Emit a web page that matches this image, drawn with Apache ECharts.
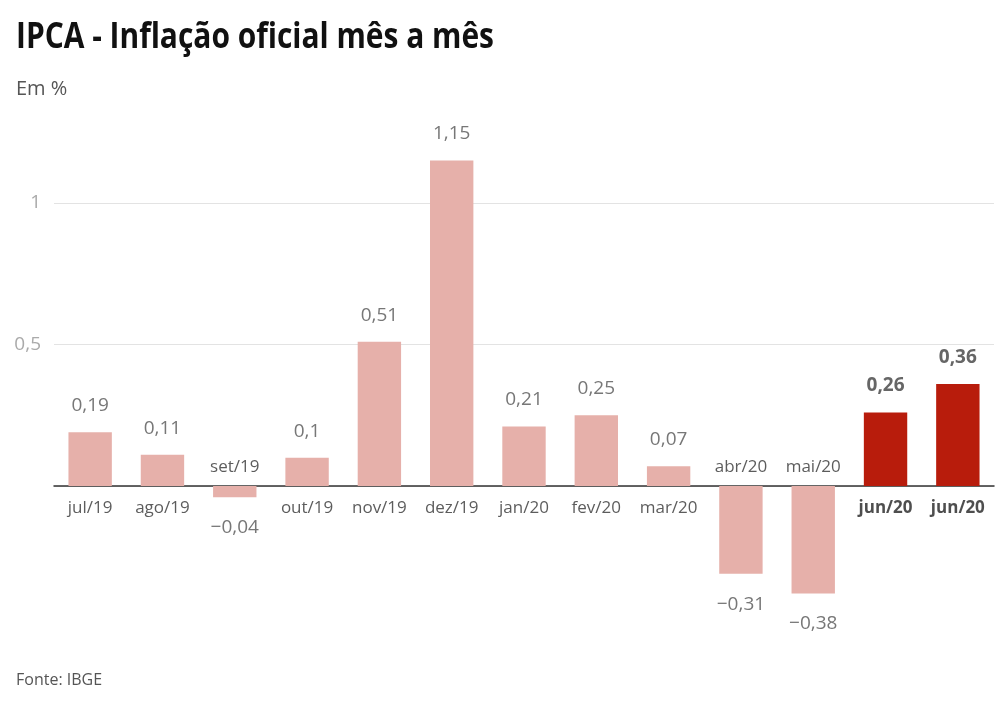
<!DOCTYPE html>
<html>
<head>
<meta charset="utf-8">
<script src="https://cdn.jsdelivr.net/npm/echarts@6/dist/echarts.min.js"></script>
<style>
  html, body { margin: 0; padding: 0; background: #fff; }
  #chart { width: 1008px; height: 719px; }
</style>
</head>
<body>
<div id="chart"></div>
<script>
// dados do IPCA mes a mes (em %)
const categories = ['jul/19', 'ago/19', 'set/19', 'out/19', 'nov/19', 'dez/19', 'jan/20',
  'fev/20', 'mar/20', 'abr/20', 'mai/20', 'jun/20', 'jun/20']
const values = [0.19, 0.11, -0.04, 0.1, 0.51, 1.15, 0.21, 0.25, 0.07, -0.31, -0.38, 0.26, 0.36]
const highlighted = [false, false, false, false, false, false, false, false, false, false, false, true, true]
const yTickLabels = { '0.5': '0,5', '1': '1' }

const fmt = v => (v < 0 ? '\u2212' : '') + String(Math.abs(v)).replace('.', ',')

const barData = values.map((v, i) => ({
  value: v,
  itemStyle: { color: highlighted[i] ? '#b81c0c' : '#e6b0aa' },
  label: {
    position: v < 0 ? 'bottom' : 'top',
    distance: v < 0 ? 21 : 17,
    fontWeight: highlighted[i] ? 'bold' : 'normal',
    color: highlighted[i] ? '#666' : '#777'
  }
}))

// rotulos das categorias ficam do lado oposto da barra
const catData = values.map((v, i) => ({
  value: [i, 0],
  label: {
    position: v < 0 ? 'top' : 'bottom',
    distance: v < 0 ? 10 : 14,
    fontWeight: highlighted[i] ? 'bold' : 'normal',
    color: highlighted[i] ? '#222' : '#333'
  }
}))

const chart = echarts.init(document.getElementById('chart'))

const option = {
  animation: false,
  backgroundColor: '#fff',
  textStyle: { fontFamily: '"Open Sans", sans-serif' },
  graphic: [
    {
      type: 'text', x: 16, y: 38, scaleX: 0.855,
      style: { text: 'IPCA - Inflação oficial mês a mês', font: 'bold 35px "Open Sans"', fill: '#111', verticalAlign: 'middle' }
    },
    {
      type: 'text', x: 16, y: 89,
      style: { text: 'Em %', font: '20px "Open Sans"', fill: '#555', verticalAlign: 'middle' }
    },
    {
      type: 'text', x: 16, y: 680,
      style: { text: 'Fonte: IBGE', font: '16px "Open Sans"', fill: '#555', verticalAlign: 'middle' }
    }
  ],
  grid: { left: 54, right: 14, top: 61.5, bottom: 91.5, containLabel: false },
  xAxis: {
    type: 'category',
    data: categories,
    axisLine: { onZero: true, lineStyle: { color: '#333', width: 1.5 } },
    axisTick: { show: false },
    axisLabel: { show: false },
    splitLine: { show: false }
  },
  yAxis: {
    type: 'value',
    min: -0.5,
    max: 1.5,
    interval: 0.5,
    axisLine: { show: false },
    axisTick: { show: false },
    axisLabel: {
      margin: 13,
      fontSize: 19,
      color: '#aaa',
      formatter: v => yTickLabels[String(v)] || ''
    },
    splitLine: {
      show: true,
      showMinLine: false,
      showMaxLine: false,
      lineStyle: { color: '#e3e3e3', width: 1 }
    }
  },
  series: [
    {
      type: 'bar',
      data: barData,
      barWidth: '60%',
      label: {
        show: true,
        fontSize: 19,
        formatter: p => fmt(p.value)
      }
    },
    {
      type: 'scatter',
      data: catData,
      symbolSize: 0,
      silent: true,
      label: {
        show: true,
        fontSize: 17,
        formatter: p => categories[p.dataIndex]
      }
    }
  ]
}

chart.setOption(option)
</script>
</body>
</html>
